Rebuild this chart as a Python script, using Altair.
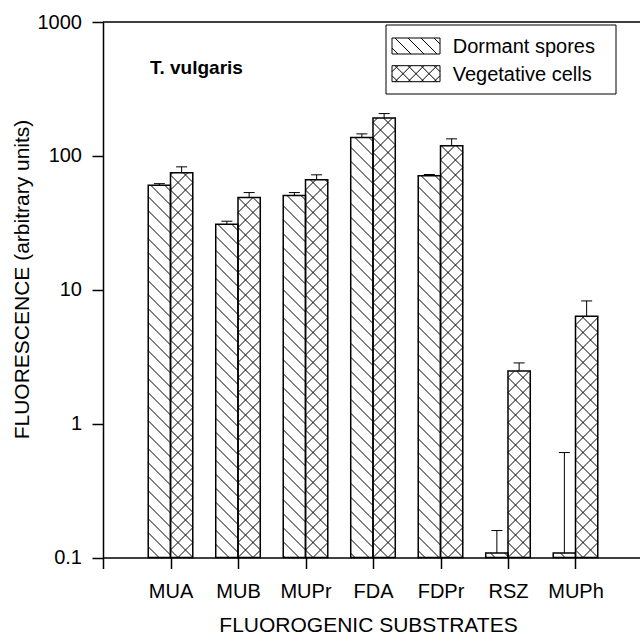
import math
import json
import altair as alt
import pandas as pd

# ---------------- data ----------------
substrates = ["MUA", "MUB", "MUPr", "FDA", "FDPr", "RSZ", "MUPh"]
series_names = ["Dormant spores", "Vegetative cells"]
dormant = [60.4, 30.9, 50.6, 137.0, 70.9, 0.108, 0.108]
dormant_err = [1.6, 1.6, 2.6, 9.0, 1.7, 0.051, 0.50]
vegetative = [74.7, 48.9, 66.2, 192.0, 119.0, 2.47, 6.34]
vegetative_err = [8.1, 4.3, 6.0, 15.0, 15.0, 0.37, 1.91]
y_ticks = [0.1, 1, 10, 100, 1000]
species = "T. vulgaris"
x_title = "FLUOROGENIC SUBSTRATES"
y_title = "FLUORESCENCE (arbitrary units)"

# ---------------- layout / style ----------------
FONT = "Liberation Sans"
W, H = 537, 535.5
STEP = 67.5                      # px per category unit
X_MAX = W / STEP
Y_MIN, Y_MAX = 0.1, 1000.0
SY = H / math.log10(Y_MAX / Y_MIN)   # px per decade
HALF = 0.33                      # bar width in category units
CAP = 5.5 / STEP                 # half width of error caps


def clip_lines(x0, x1, y0, y1, spacing, direction):
    """45-degree hatch lines clipped to a rectangle (pixel space, y up).
    direction -1: y + x = c ('\\'),  +1: y - x = c ('/')."""
    segs = []
    if direction < 0:
        cmin, cmax = x0 + y0, x1 + y1
    else:
        cmin, cmax = y0 - x1, y1 - x0
    k = math.ceil(cmin / spacing)
    while k * spacing <= cmax:
        c = k * spacing
        if direction < 0:
            lo, hi = max(x0, c - y1), min(x1, c - y0)
            if hi - lo > 1e-6:
                segs.append((lo, c - lo, hi, c - hi))
        else:
            lo, hi = max(x0, y0 - c), min(x1, y1 - c)
            if hi - lo > 1e-6:
                segs.append((lo, c + lo, hi, c + hi))
        k += 1
    return segs


series_specs = [
    (series_names[0], dormant, dormant_err, -HALF, 0.0, [-1], 14.0),
    (series_names[1], vegetative, vegetative_err, 0.0, HALF, [-1, 1], 15.0),
]

bar_rows, hatch_rows = [], []
for i, sub in enumerate(substrates):
    pos = i + 1
    for name, vals, errs, dx0, dx1, dirs, spacing in series_specs:
        v, e = vals[i], errs[i]
        x0, x1 = pos + dx0, pos + dx1
        bar_rows.append(dict(substrate=sub, series=name, x0=x0, x1=x1,
                             center=(x0 + x1) / 2, value=v, err_top=v + e))
        top_px = math.log10(v / Y_MIN) * SY
        for d in dirs:
            for xa, ya, xb, yb in clip_lines(x0 * STEP, x1 * STEP, 0.0, top_px, spacing, d):
                hatch_rows.append(dict(series=name,
                                       hx=xa / STEP, hx2=xb / STEP,
                                       hy=Y_MIN * 10 ** (ya / SY),
                                       hy2=Y_MIN * 10 ** (yb / SY)))

bars_df = pd.DataFrame(bar_rows)
hatch_df = pd.DataFrame(hatch_rows)


def symbol_path(dirs, spacing):
    # 48x16 px swatch; symbol unit = 8 px (size 256)
    u = 8.0
    w, h = 24.0, 8.0
    parts = [f"M{-w/u:.4f},{-h/u:.4f}L{w/u:.4f},{-h/u:.4f}L{w/u:.4f},{h/u:.4f}L{-w/u:.4f},{h/u:.4f}Z"]
    for d in dirs:
        for xa, ya, xb, yb in clip_lines(-w, w, -h, h, spacing, d):
            parts.append(f"M{xa/u:.4f},{-ya/u:.4f}L{xb/u:.4f},{-yb/u:.4f}")
    return "".join(parts)


legend_paths = [symbol_path([-1], 13.0), symbol_path([-1, 1], 13.0)]

# ---------------- scales & axes ----------------
x_scale = alt.Scale(domain=[0, X_MAX], nice=False, zero=False)
y_scale = alt.Scale(type="log", domain=[Y_MIN, Y_MAX], nice=False)

x_labels = [""] + substrates
x_axis = alt.Axis(
    values=list(range(0, len(substrates) + 1)),
    labelExpr=json.dumps(x_labels) + "[datum.value]",
    grid=False, tickSize=11, tickWidth=1.5, tickColor="black",
    domainColor="black", domainWidth=1.5,
    labelFontSize=20, labelColor="black", labelPadding=29,
    labelBaseline="alphabetic", labelFlush=False, labelOverlap=False,
    titleFontSize=21, titleFontWeight="normal", titleColor="black",
    titleX=265, titleY=73.5, titleAlign="center", titleBaseline="alphabetic",
)
y_axis = alt.Axis(
    values=y_ticks,
    labelExpr="format(datum.value, '~f')",
    grid=False, tickSize=11, tickWidth=1.5, tickColor="black",
    domainColor="black", domainWidth=1.5,
    labelFontSize=20, labelColor="black", labelPadding=10.5,
    titleFontSize=21, titleFontWeight="normal", titleColor="black",
    titleX=-75, titleY=257, titleAngle=270, titleAlign="center",
    titleBaseline="alphabetic",
)


def X(field):
    return alt.X(field, type="quantitative", scale=x_scale, axis=x_axis, title=x_title)


def Y(field):
    return alt.Y(field, type="quantitative", scale=y_scale, axis=y_axis, title=y_title)


# ---------------- layers ----------------
hatch = alt.Chart(hatch_df).mark_rule(color="black", strokeWidth=1).encode(
    x=X("hx"), x2="hx2:Q", y=Y("hy"), y2="hy2:Q"
)

outline = alt.Chart(bars_df).mark_rect(fillOpacity=0, stroke="black", strokeWidth=1.5).encode(
    x=X("x0"), x2="x1:Q", y=Y("value"), y2=alt.Y2Datum(Y_MIN)
)

err_line = alt.Chart(bars_df).mark_rule(color="black", strokeWidth=1).encode(
    x=X("center"), y=Y("value"), y2="err_top:Q"
)

err_cap = alt.Chart(bars_df).transform_calculate(
    cx0=f"datum.center - {CAP}", cx1=f"datum.center + {CAP}"
).mark_rule(color="black", strokeWidth=1).encode(
    x=X("cx0"), x2="cx1:Q", y=Y("err_top")
)

top_border = alt.Chart(pd.DataFrame({"k": [0]})).mark_rule(color="black", strokeWidth=1.5).encode(
    x=alt.XDatum(0, scale=x_scale, axis=x_axis, title=x_title),
    x2=alt.X2Datum(X_MAX),
    y=alt.YDatum(Y_MAX, scale=y_scale, axis=y_axis, title=y_title),
)

label = alt.Chart(pd.DataFrame({"t": [species]})).mark_text(
    align="left", baseline="alphabetic", fontSize=19, fontWeight="bold",
    color="black", font=FONT
).encode(text="t:N", x=alt.value(47), y=alt.value(52.3))

# ---- legend (drawn as a boxed key inside the plot) ----
legend_box = alt.Chart(pd.DataFrame({"k": [0]})).mark_rect(
    fill="white", stroke="black", strokeWidth=1
).encode(x=alt.value(283), x2=alt.value(513), y=alt.value(3), y2=alt.value(72))

legend_layers = [legend_box]
for i, name in enumerate(series_names):
    entry = pd.DataFrame({"series": [name]})
    legend_layers.append(
        alt.Chart(entry).mark_point(
            shape=legend_paths[i], size=256, filled=True, fill="white",
            stroke="black", strokeWidth=1, opacity=1
        ).encode(x=alt.value(313), y=alt.value(24 + 27.7 * i))
    )
    legend_layers.append(
        alt.Chart(entry).mark_text(
            align="left", baseline="alphabetic", fontSize=20, color="black", font=FONT
        ).encode(text="series:N", x=alt.value(349.7), y=alt.value(31.3 + 27.4 * i))
    )

chart = alt.layer(
    hatch, outline, err_line, err_cap, top_border, label, *legend_layers
).properties(
    width=W, height=H,
    autosize=alt.AutoSizeParams(type="none"),
    padding={"left": 103, "top": 22, "right": 0, "bottom": 76.5},
).configure(font=FONT).configure_view(stroke=None)

chart.save("out.html", embed_options={"renderer": "svg", "actions": False})
